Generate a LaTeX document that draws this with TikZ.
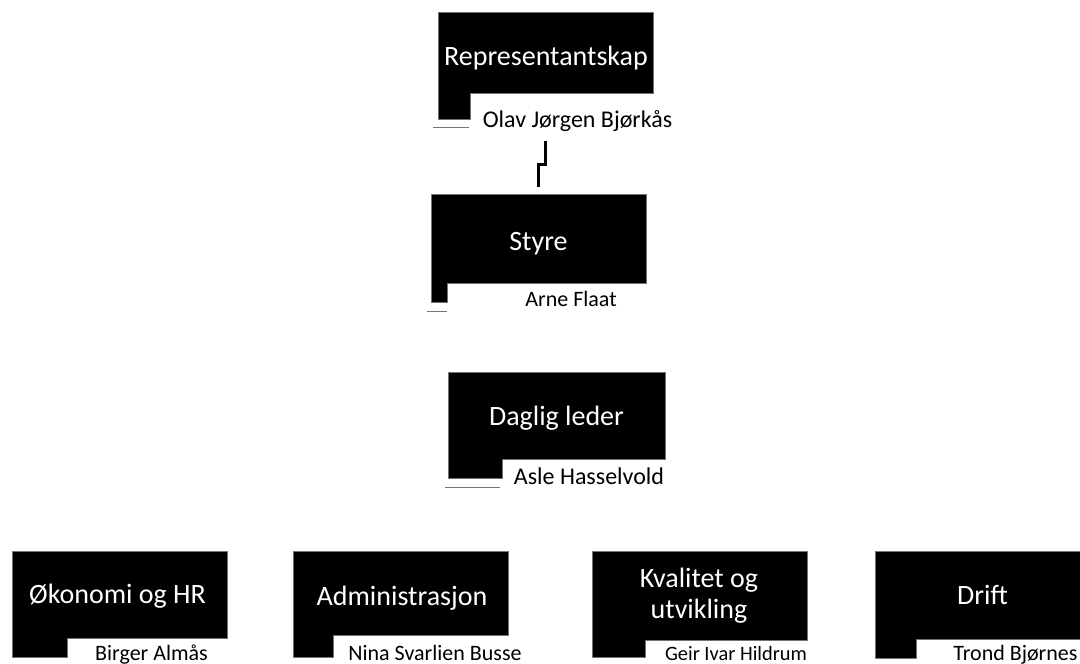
\documentclass[tikz,border=0pt]{standalone}
\usepackage{fontspec}
\setmainfont{Carlito}
\begin{document}
\begin{tikzpicture}[x=1pt,y=-1pt,
  orgbox/.style={fill=black,draw=black!55,line width=0.6pt},
  tabline/.style={draw=black!55,line width=1pt},
  title/.style={text=white,inner sep=0pt,anchor=base,font=\fontsize{28}{33}\selectfont,align=center},
  person/.style={text=black,inner sep=0pt,anchor=base},
  link/.style={line width=3pt,line join=miter,line cap=butt}]
\useasboundingbox (0,0) rectangle (1080,664);
% Representantskap
\draw[orgbox] (438,12) -| (653,93) -| (470,119) -| (438,12) -- cycle;
\draw[tabline] (433,127) -- (469,127);
\node[title] (rep) at (546,65) {Representantskap};
\node[person,font=\fontsize{24}{28}\selectfont] (repn) at (577.5,127) {Olav Jørgen Bjørkås};
% Styre
\draw[orgbox] (431,194) -| (646,283) -| (447,302) -| (431,194) -- cycle;
\draw[tabline] (427,311) -- (447,311);
\node[title] (sty) at (538.5,250) {Styre};
\node[person,font=\fontsize{22}{26}\selectfont] (styn) at (571,306) {Arne Flaat};
% Daglig leder
\draw[orgbox] (448,372) -| (665,459) -| (502,478) -| (448,372) -- cycle;
\draw[tabline] (445,487) -- (500,487);
\node[title] (dl) at (556.5,425) {Daglig leder};
\node[person,font=\fontsize{24}{28}\selectfont] (dln) at (589,484) {Asle Hasselvold};
% Okonomi og HR
\draw[orgbox] (12,551) -| (227,638) -| (67,657) -| (12,551) -- cycle;
\node[title] (ok) at (117.5,603) {Økonomi og HR};
\node[person,font=\fontsize{22}{26}\selectfont] (okn) at (151.5,660) {Birger Almås};
% Administrasjon
\draw[orgbox] (293,551) -| (508,635) -| (333,657) -| (293,551) -- cycle;
\node[title] (adm) at (402,605) {Administrasjon};
\node[person,font=\fontsize{22}{26}\selectfont] (admn) at (435,660) {Nina Svarlien Busse};
% Kvalitet og utvikling
\draw[orgbox] (592,551) -| (807,640) -| (645,657) -| (592,551) -- cycle;
\node[title] (kv) at (699,587) {Kvalitet og};
\node[title] (kv2) at (699,618) {utvikling};
\node[person,font=\fontsize{20.4}{24}\selectfont] (kvn) at (736,660) {Geir Ivar Hildrum};
% Drift
\draw[orgbox] (875,551) -| (1090,639) -| (916,658) -| (875,551) -- cycle;
\node[title] (dr) at (982.5,604) {Drift};
\node[person,font=\fontsize{22}{26}\selectfont] (drn) at (1015.5,660) {Trond Bjørnes};
% connector
\coordinate (repc) at (545.5,141);
\coordinate (styc) at (538.5,187);
\draw[link] (repc) -- ++(0,23) -| (styc);
\end{tikzpicture}
\end{document}
